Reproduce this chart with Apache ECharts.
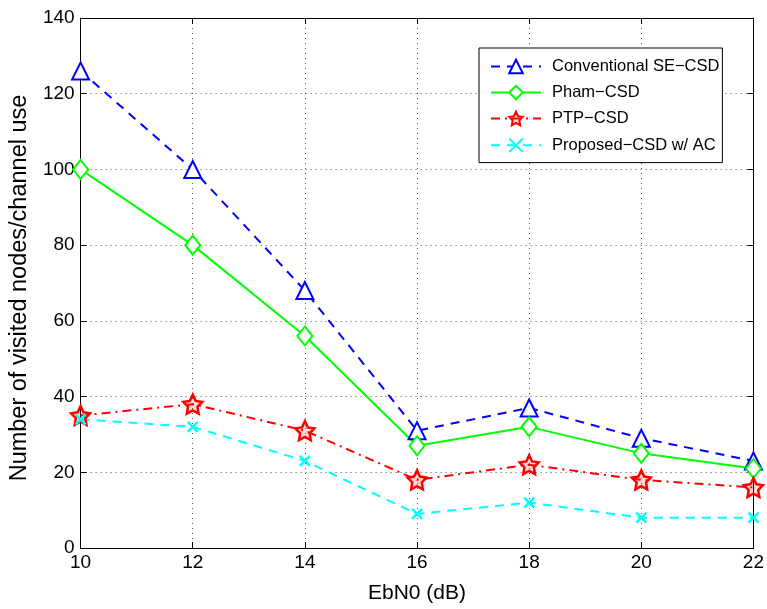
<!DOCTYPE html>
<html>
<head>
<meta charset="utf-8">
<script src="https://cdn.jsdelivr.net/npm/echarts@6/dist/echarts.min.js"></script>
<style>
html,body{margin:0;padding:0;background:#fff;}
#chart{width:767px;height:609px;}
</style>
</head>
<body>
<div id="chart"></div>
<script>
// EbN0 values (dB) on the horizontal axis
const ebn0 = [10, 12, 14, 16, 18, 20, 22];
// Visited nodes per channel use for each detector
const conventional = [126, 100, 68, 31, 37, 29, 23];
const pham = [100, 80, 56, 27, 32, 25, 21];
const ptp = [35, 38, 31, 18, 22, 18, 16];
const proposed = [34, 32, 23, 9, 12, 8, 8];
const seriesNames = ['Conventional SE\u2212CSD', 'Pham\u2212CSD', 'PTP\u2212CSD', 'Proposed\u2212CSD w/ AC'];

const pair = (ys) => ebn0.map((x, i) => [x, ys[i]]);

const starPath = 'path://M0,-10 L2.94,-4.05 9.51,-3.09 4.76,1.55 5.88,8.09 0,5 -5.88,8.09 -4.76,1.55 -9.51,-3.09 -2.94,-4.05 Z';
const crossPath = 'path://M-5,-5 L5,5 M5,-5 L-5,5';

const font = 'Liberation Sans, Arial, Helvetica, sans-serif';
const gridLine = { show: true, lineStyle: { color: '#555', type: [1, 4], width: 1 } };
const boxLine = { show: true, onZero: false, lineStyle: { color: '#000', width: 1 } };
const boxTick = { show: true, inside: true, length: 6, lineStyle: { color: '#000' } };

const chart = echarts.init(document.getElementById('chart'), null, { renderer: 'canvas' });
chart.setOption({
  backgroundColor: '#fff',
  animation: false,
  grid: { left: 75, right: 13, top: 18, bottom: 58, show: false },
  legend: {
    orient: 'vertical',
    left: 479, top: 48,
    padding: [10, 3, 8, 11],
    itemGap: 9,
    itemWidth: 50,
    itemHeight: 17,
    borderColor: '#000', borderWidth: 1,
    backgroundColor: '#fff',
    textStyle: { fontFamily: font, fontSize: 16.5, color: '#000', padding: [0, 0, 0, 6] },
    data: seriesNames
  },
  xAxis: [{
    type: 'value', min: 10, max: 22, interval: 2,
    name: 'EbN0 (dB)', nameLocation: 'middle', nameGap: 35,
    nameTextStyle: { fontFamily: font, fontSize: 21, color: '#000' },
    axisLine: boxLine,
    axisTick: boxTick,
    axisLabel: { fontFamily: font, fontSize: 19, color: '#000', margin: 5 },
    splitLine: gridLine
  }, {
    type: 'value', min: 10, max: 22, interval: 2, position: 'top',
    axisLine: boxLine, axisTick: boxTick,
    axisLabel: { show: false }, splitLine: { show: false }
  }],
  yAxis: [{
    type: 'value', min: 0, max: 140, interval: 20,
    name: 'Number of visited nodes/channel use', nameLocation: 'middle', nameGap: 46,
    nameTextStyle: { fontFamily: font, fontSize: 23.5, color: '#000', padding: [0, 10, 0, 0] },
    axisLine: boxLine,
    axisTick: boxTick,
    axisLabel: { fontFamily: font, fontSize: 19, color: '#000', margin: 6 },
    splitLine: gridLine
  }, {
    type: 'value', min: 0, max: 140, interval: 20, position: 'right',
    axisLine: boxLine, axisTick: boxTick,
    axisLabel: { show: false }, splitLine: { show: false }
  }],
  series: [{
    name: seriesNames[0], type: 'line', data: pair(conventional),
    symbol: 'emptyTriangle', symbolSize: 17,
    lineStyle: { color: '#0000ff', width: 2, type: [9, 7] },
    itemStyle: { color: '#0000ff', borderColor: '#0000ff', borderWidth: 2 }
  }, {
    name: seriesNames[1], type: 'line', data: pair(pham),
    symbol: 'emptyDiamond', symbolSize: [15, 19],
    lineStyle: { color: '#00ff00', width: 2 },
    itemStyle: { color: '#00ff00', borderColor: '#00ff00', borderWidth: 2 }
  }, {
    name: seriesNames[2], type: 'line', data: pair(ptp),
    symbol: starPath, symbolSize: 19,
    lineStyle: { color: '#ff0000', width: 2, type: [9, 5, 2, 5] },
    itemStyle: { color: 'rgba(255,0,0,0.15)', borderColor: '#ff0000', borderWidth: 2.5 }
  }, {
    name: seriesNames[3], type: 'line', data: pair(proposed),
    symbol: crossPath, symbolSize: 10,
    lineStyle: { color: '#00ffff', width: 2, type: [9, 7] },
    itemStyle: { color: 'none', borderColor: '#00ffff', borderWidth: 2.5 }
  }]
});
</script>
</body>
</html>
